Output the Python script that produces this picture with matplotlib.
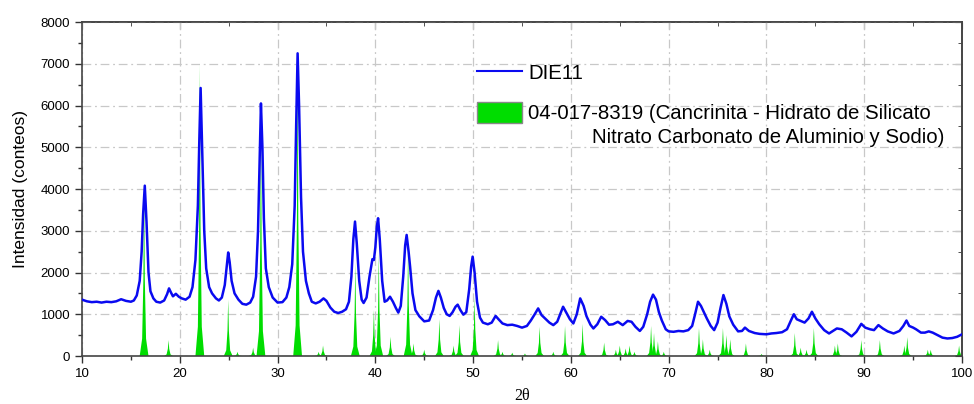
import matplotlib
matplotlib.use('Agg')
import matplotlib.pyplot as plt
from matplotlib.ticker import MultipleLocator
from matplotlib.patches import Patch
from matplotlib.lines import Line2D

plt.rcParams['font.family'] = ['Liberation Sans', 'DejaVu Sans']

two_theta = [10.0, 10.5, 11.0, 11.5, 12.0, 12.5, 13.0, 13.5, 14.0, 14.5, 15.0, 15.3, 15.6, 15.9, 16.1, 16.25,
             16.42, 16.6, 16.8, 17.0, 17.3, 17.6, 18.0, 18.4, 18.7, 18.9, 19.1, 19.3, 19.6, 19.9, 20.2, 20.6,
             21.0, 21.3, 21.6, 21.85, 22.0, 22.13, 22.3, 22.5, 22.7, 23.0, 23.3, 23.7, 24.0, 24.3, 24.6, 24.8,
             24.95, 25.1, 25.3, 25.6, 26.0, 26.4, 26.8, 27.2, 27.5, 27.8, 28.0, 28.15, 28.3, 28.45, 28.6, 28.8,
             29.1, 29.5, 30.0, 30.5, 30.9, 31.2, 31.5, 31.75, 31.9, 32.05, 32.2, 32.4, 32.6, 32.9, 33.2, 33.5,
             33.9, 34.3, 34.7, 35.0, 35.4, 35.8, 36.2, 36.6, 37.0, 37.3, 37.55, 37.75, 37.92, 38.1, 38.35, 38.6,
             38.8, 39.1, 39.4, 39.7, 39.85, 40.0, 40.15, 40.28, 40.45, 40.7, 40.95, 41.2, 41.5, 41.8, 42.1, 42.35,
             42.6, 42.85, 43.05, 43.2, 43.4, 43.55, 43.8, 44.1, 44.5, 45.0, 45.5, 45.9, 46.2, 46.45, 46.7, 47.0,
             47.3, 47.6, 47.9, 48.2, 48.42, 48.7, 49.0, 49.3, 49.6, 49.8, 49.95, 50.15, 50.4, 50.7, 51.0, 51.5,
             51.9, 52.3, 52.6, 53.0, 53.5, 54.0, 54.5, 55.0, 55.5, 55.9, 56.3, 56.65, 57.0, 57.35, 57.8, 58.2,
             58.6, 58.9, 59.2, 59.5, 59.9, 60.25, 60.6, 60.95, 61.3, 61.6, 62.0, 62.3, 62.7, 63.1, 63.5, 63.9,
             64.3, 64.8, 65.3, 65.8, 66.2, 66.6, 67.05, 67.4, 67.8, 68.1, 68.4, 68.7, 69.0, 69.3, 69.7, 70.0,
             70.5, 71.0, 71.5, 72.0, 72.4, 72.7, 73.0, 73.3, 73.6, 73.9, 74.3, 74.65, 75.0, 75.3, 75.6, 75.9,
             76.2, 76.6, 77.1, 77.5, 77.8, 78.2, 78.8, 79.3, 80.0, 80.5, 81.0, 81.6, 82.1, 82.5, 82.8, 83.1,
             83.5, 83.9, 84.3, 84.65, 85.0, 85.4, 85.9, 86.4, 86.8, 87.2, 87.7, 88.2, 88.7, 89.2, 89.7, 90.1,
             90.6, 91.0, 91.45, 91.9, 92.4, 93.0, 93.6, 94.0, 94.32, 94.6, 95.0, 95.3, 95.8, 96.2, 96.6, 97.0,
             97.5, 98.0, 98.5, 99.0, 99.5, 100.0]
counts = [1350, 1310, 1290, 1300, 1280, 1300, 1290, 1310, 1360, 1320, 1300, 1330, 1450, 1800, 2500, 3400,
          4080, 3200, 2000, 1550, 1380, 1300, 1280, 1330, 1480, 1620, 1520, 1430, 1490, 1420, 1380, 1350,
          1420, 1650, 2300, 3600, 5200, 6420, 4800, 3000, 2100, 1650, 1500, 1380, 1330, 1400, 1700, 2150,
          2480, 2250, 1800, 1500, 1350, 1250, 1230, 1280, 1420, 1900, 3000, 4500, 6050, 5000, 3300, 2100,
          1650, 1400, 1280, 1290, 1400, 1650, 2200, 3600, 5500, 7250, 6000, 3800, 2500, 1800, 1500, 1300,
          1260, 1300, 1380, 1320, 1160, 1060, 1030, 1060, 1120, 1300, 1900, 2800, 3220, 2700, 1800, 1350,
          1270, 1400, 1900, 2320, 2300, 2600, 3100, 3300, 2800, 1800, 1300, 1330, 1420, 1300, 1150, 1040,
          1200, 1900, 2650, 2900, 2500, 2150, 1500, 1100, 950, 830, 850, 1100, 1400, 1560, 1400, 1150,
          1000, 960, 1050, 1180, 1230, 1100, 990, 1050, 1600, 2150, 2380, 2000, 1300, 920, 800, 760,
          800, 960, 880, 780, 740, 750, 720, 680, 720, 850, 1000, 1140, 980, 900, 800, 740,
          820, 1000, 1180, 1050, 880, 780, 1000, 1380, 1200, 950, 750, 660, 760, 940, 860, 750,
          760, 820, 740, 840, 820, 700, 600, 700, 1000, 1300, 1470, 1350, 1050, 850, 640, 590,
          580, 600, 590, 620, 720, 1000, 1300, 1200, 1050, 900, 720, 620, 800, 1150, 1460, 1250,
          950, 750, 590, 600, 680, 600, 550, 530, 520, 540, 550, 570, 640, 850, 1000, 880,
          840, 800, 900, 1060, 900, 760, 620, 540, 600, 660, 640, 560, 470, 580, 770, 680,
          640, 620, 740, 660, 590, 540, 600, 720, 850, 720, 680, 640, 560, 560, 590, 560,
          500, 440, 420, 430, 460, 520]

# Patron de referencia 04-017-8319 (posiciones e intensidades)
ref_pos = [16.35, 18.85, 22.05, 24.95, 25.9, 27.5, 28.3, 32.05, 34.2, 34.65, 37.95, 39.85, 40.35, 41.55,
           43.35, 43.9, 45.0, 46.55, 48.0, 48.6, 50.15, 52.55, 53.0, 54.0, 55.3, 56.8, 58.2, 59.4, 61.2,
           63.4, 64.6, 65.0, 65.6, 66.0, 66.5, 68.2, 68.5, 68.9, 69.5, 73.1, 73.5, 74.2, 75.55, 75.9, 76.3,
           77.9, 79.5, 82.9, 83.5, 84.1, 84.85, 87.0, 87.3, 89.7, 91.6, 94.1, 94.4, 96.5, 96.8, 99.7]
ref_int = [4150, 380, 7000, 1350, 100, 200, 5950, 7300, 100, 250, 2250, 1100, 2450, 460,
           2700, 300, 150, 880, 250, 740, 1420, 380, 100, 80, 60, 700, 100, 720, 770,
           320, 150, 250, 180, 250, 100, 720, 550, 350, 100, 670, 400, 150, 670, 500, 400,
           300, 50, 550, 200, 150, 670, 250, 300, 380, 380, 250, 450, 150, 150, 250]

green = '#00dd00'
blue = '#0a0af0'

fig = plt.figure(figsize=(9.74, 4.04), dpi=100)
ax = fig.add_axes([0.0842, 0.1188, 0.9035, 0.8267])

for p, h in zip(ref_pos, ref_int):
    ax.fill([p - 0.45, p - 0.2, p - 0.07, p, p + 0.07, p + 0.2, p + 0.45],
            [0, 0.1 * h, 0.45 * h, h, 0.45 * h, 0.1 * h, 0],
            color=green, lw=0, zorder=2)

ax.plot(two_theta, counts, color=blue, lw=1.8, zorder=3)

ax.set_xlim(10, 100)
ax.set_ylim(0, 8000)
ax.xaxis.set_major_locator(MultipleLocator(10))
ax.xaxis.set_minor_locator(MultipleLocator(5))
ax.yaxis.set_major_locator(MultipleLocator(1000))
ax.yaxis.set_minor_locator(MultipleLocator(500))
ax.tick_params(which='both', direction='out', labelsize=9.5, colors='#333333', labelcolor='black')
ax.tick_params(which='major', length=5, width=1)
ax.tick_params(which='minor', length=3, width=1)

# Ticks hacia dentro arriba y a la derecha
top = ax.secondary_xaxis('top')
top.xaxis.set_major_locator(MultipleLocator(10))
top.xaxis.set_minor_locator(MultipleLocator(5))
top.tick_params(which='both', direction='in', labeltop=False, colors='#333333')
top.tick_params(which='major', length=5)
top.tick_params(which='minor', length=3)
right = ax.secondary_yaxis('right')
right.yaxis.set_major_locator(MultipleLocator(1000))
right.yaxis.set_minor_locator(MultipleLocator(500))
right.tick_params(which='both', direction='in', labelright=False, colors='#333333')
right.tick_params(which='major', length=5)
right.tick_params(which='minor', length=3)

for a in (ax, top, right):
    for s in a.spines.values():
        s.set_color('#444444')
        s.set_linewidth(1.2)

ax.grid(True, which='major', color='#c8c8c8', lw=0.9, linestyle=(0, (7, 3, 1.5, 3)), zorder=0)
ax.set_axisbelow(True)

ax.set_ylabel('Intensidad (conteos)', fontsize=12.5, labelpad=9)
ax.set_xlabel('2θ', fontsize=11.5, family=['Liberation Serif', 'DejaVu Serif'], labelpad=6)

handles = [Line2D([], [], color=blue, lw=1.5),
           Patch(facecolor=green, edgecolor='#888888')]
labels = ['DIE11', '04-017-8319 (Cancrinita - Hidrato de Silicato']
leg = ax.legend(handles, labels, loc='upper left', bbox_to_anchor=(0.428, 0.935), frameon=False,
                fontsize=14.7, handlelength=2.2, handleheight=1.2, handletextpad=0.3, labelspacing=0.9)
ax.text(0.5795, 0.6557, 'Nitrato Carbonato de Aluminio y Sodio)', transform=ax.transAxes,
        fontsize=14.7, ha='left', va='center')

fig.savefig('out.png', dpi=100)
